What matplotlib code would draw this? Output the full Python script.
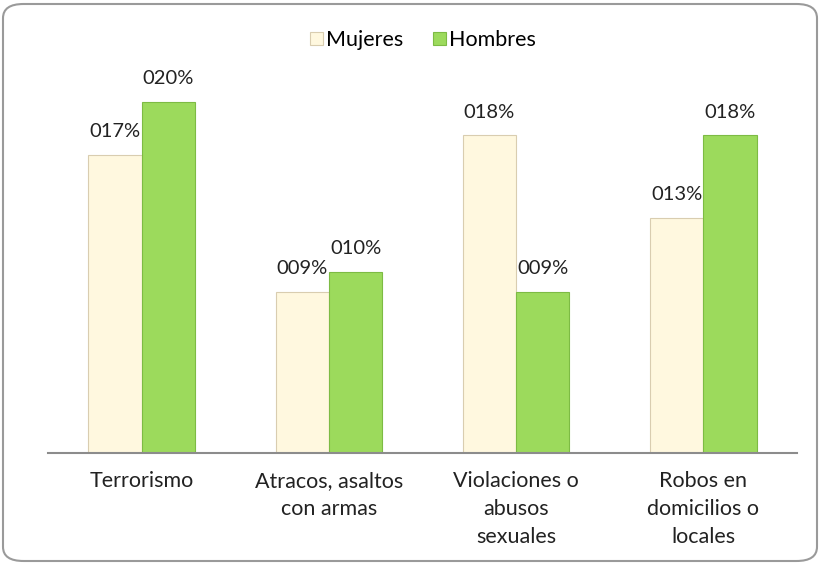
import matplotlib.pyplot as plt
import numpy as np
from matplotlib.patches import FancyBboxPatch

categories = ["Terrorismo", "Atracos, asaltos\ncon armas", "Violaciones o\nabusos\nsexuales",
              "Robos en\ndomicilios o\nlocales"]
mujeres = [17.0, 9.2, 18.1, 13.4]
hombres = [20.0, 10.3, 9.2, 18.1]

plt.rcParams['font.family'] = ['Lato', 'DejaVu Sans']

fig = plt.figure(figsize=(8.21, 5.65), dpi=100)
ax = fig.add_axes([48 / 821, 112 / 565, 749 / 821, 393 / 565])

# rounded border around the whole chart
border = FancyBboxPatch((3 / 821, 4 / 565), 814 / 821, 557 / 565,
                        boxstyle="round,pad=0,rounding_size=0.025",
                        transform=fig.transFigure, facecolor="none",
                        edgecolor="#9a9a9a", linewidth=1.5)
fig.patches.append(border)

x = np.arange(len(categories))
w = 0.285
b1 = ax.bar(x - w / 2, mujeres, w, color="#FFF8DF", edgecolor="#D9CDB0",
            linewidth=0.8, label="Mujeres")
b2 = ax.bar(x + w / 2, hombres, w, color="#9CDA5C", edgecolor="#7DBB44",
            linewidth=0.8, label="Hombres")

for bars, vals in ((b1, mujeres), (b2, hombres)):
    for r, v in zip(bars, vals):
        ax.text(r.get_x() + r.get_width() / 2, v + 0.85, "%03d%%" % round(v),
                ha="center", va="bottom", fontsize=14.5, color="#222222")

ax.set_xlim(-0.5, len(categories) - 0.5)
ax.set_ylim(0, 22.4)
ax.set_yticks([])
ax.set_xticks(x)
ax.set_xticklabels(categories, fontsize=15.5, color="#222222", linespacing=1.5)
ax.tick_params(axis="x", length=0, pad=13)
for s in ("top", "right", "left"):
    ax.spines[s].set_visible(False)
ax.spines["bottom"].set_color("#8c8c8c")
ax.spines["bottom"].set_linewidth(1.5)

fig.legend(handles=[b1, b2], loc="center", bbox_to_anchor=(423 / 821, 1 - 40 / 565),
           ncol=2, frameon=False, fontsize=15.5, handlelength=0.6, handleheight=0.6,
           handletextpad=0.15, columnspacing=1.4)

fig.savefig("out.png", dpi=100)
